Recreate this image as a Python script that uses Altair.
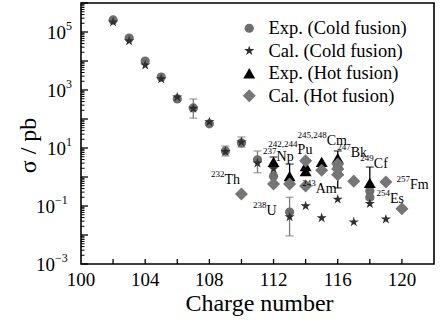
import altair as alt
import pandas as pd

FONT = "Liberation Serif"

# ---- data ----
series_order = ["Exp. (Cold fusion)", "Cal. (Cold fusion)", "Exp. (Hot fusion)", "Cal. (Hot fusion)"]

exp_cold_z = [102, 103, 104, 105, 106, 107, 108, 109, 110, 111, 112, 113, 118, 118]
exp_cold_s = [2.6e5, 6.2e4, 1.0e4, 2.8e3, 490, 240, 68, 7.9, 15, 3.9, 1.07, 0.062, 0.33, 0.2]

cal_cold_z = [102, 103, 104, 105, 106, 107, 108, 109, 110, 111, 112, 113, 114, 115, 116, 117, 118, 119]
cal_cold_s = [2.2e5, 4.9e4, 7.2e3, 2.4e3, 570, 230, 79, 7.5, 16, 3.0, 1.9, 0.042, 0.10, 0.039, 0.17, 0.028, 0.12, 0.035]

exp_hot_z = [112, 113, 114, 114, 115, 116, 116, 116, 118]
exp_hot_s = [3.3, 1.07, 2.4, 1.6, 3.3, 4.5, 2.8, 1.7, 0.63]

cal_hot_z = [110, 112, 113, 114, 114, 115, 116, 116, 116, 117, 119, 120]
cal_hot_s = [0.26, 0.57, 0.57, 3.6, 0.49, 1.7, 2.8, 1.9, 1.2, 0.72, 0.67, 0.08]

# error bars (cold-fusion experiments, grey; hot-fusion experiments, black)
err_cold_z = [107, 109, 110, 111, 113]
err_cold_lo = [107, 5.3, 10.8, 1.4, 0.0093]
err_cold_hi = [490, 11.7, 24, 7.9, 0.2]
err_hot_z = [112, 113, 116, 118]
err_hot_lo = [2.2, 0.7, 0.42, 0.17]
err_hot_hi = [4.9, 2.8, 7.9, 2.2]

# target annotations
lab_sup = ["232", "238", "237", "242,244", "245,248", "247", "243", "249", "257", "254"]
lab_sym = ["Th", "U", "Np", "Pu", "Cm", "Bk", "Am", "Cf", "Fm", "Es"]
lab_z = [108.94, 111.56, 112.19, 113.5, 115.31, 116.81, 114.63, 118.25, 120.5, 119.25]
lab_s = [0.575, 0.05, 3.55, 6.2, 12.6, 4.9, 0.28, 2.0, 0.4, 0.13]

# axis ticks / labels / titles
x_label_values = [100, 104, 108, 112, 116, 120]
x_label_text = ["100", "104", "108", "112", "116", "120"]
x_tick_values = [102, 104, 106, 108, 110, 112, 114, 116, 118, 120]
y_major = [10.0 ** e for e in range(-3, 7)]
y_minor = [k * 10.0 ** e for e in range(-3, 6) for k in range(2, 10)]
y_label_pos_vals = [1e5, 1e3, 1e1]
y_label_pos_exp = ["5", "3", "1"]
y_label_neg_vals = [1e-1, 1e-3]
y_label_neg_exp = ["\u22121", "\u22123"]
x_title = "Charge number"
y_title = "\u03c3 / pb"

# ---- tables ----
pts = pd.DataFrame({
    "z": exp_cold_z + cal_cold_z + exp_hot_z + cal_hot_z,
    "s": exp_cold_s + cal_cold_s + exp_hot_s + cal_hot_s,
    "series": ([series_order[0]] * len(exp_cold_z) + [series_order[1]] * len(cal_cold_z)
               + [series_order[2]] * len(exp_hot_z) + [series_order[3]] * len(cal_hot_z)),
})
errs_cold = pd.DataFrame({"z": err_cold_z, "lo": err_cold_lo, "hi": err_cold_hi})
errs_hot = pd.DataFrame({"z": err_hot_z, "lo": err_hot_lo, "hi": err_hot_hi})
labs = pd.DataFrame({"z": lab_z, "s": lab_s, "sup": lab_sup, "sym": lab_sym})

W, H = 353, 261
xscale = alt.Scale(domain=[100, 122], nice=False, zero=False)
yscale = alt.Scale(type="log", domain=[1e-3, 1e6], nice=False)

X = lambda f: alt.X(f, type="quantitative", scale=xscale, axis=None)
Y = lambda f: alt.Y(f, type="quantitative", scale=yscale, axis=None)

star = ("M0,-1L0.225,-0.309L0.951,-0.309L0.363,0.118L0.588,0.809L0,0.382"
        "L-0.588,0.809L-0.363,0.118L-0.951,-0.309L-0.225,-0.309Z")
shape_range = ["circle", star, "triangle-up", "diamond"]
color_range = ["#6e6e6e", "#2e2e2e", "#000000", "#767676"]
size_range = [85, 170, 110, 120]

legend = alt.Legend(orient="none", legendX=159, legendY=16, title=None,
                    labelFont=FONT, labelFontSize=18.5, labelColor="black",
                    symbolSize=60, symbolStrokeWidth=0, symbolOpacity=1,
                    rowPadding=3.5, labelOffset=10, padding=0)

# tick marks (inward)
ymaj = alt.Chart(pd.DataFrame({"s": y_major})).mark_rule(color="black", strokeWidth=1.3).encode(
    y=Y("s"), x=alt.value(0), x2=alt.value(7))
ymin = alt.Chart(pd.DataFrame({"s": y_minor})).mark_rule(color="black", strokeWidth=1).encode(
    y=Y("s"), x=alt.value(0), x2=alt.value(3.5))
xt = alt.Chart(pd.DataFrame({"z": x_tick_values})).mark_rule(color="black", strokeWidth=1.3).encode(
    x=X("z"), y=alt.value(H), y2=alt.value(H - 5))


def errorbars(df, color):
    bar = alt.Chart(df).mark_rule(strokeWidth=1.3, color=color).encode(x=X("z"), y=Y("lo"), y2="hi")
    lo = alt.Chart(df).mark_tick(orient="horizontal", size=8, thickness=1.3, color=color).encode(
        x=X("z"), y=Y("lo"))
    hi = alt.Chart(df).mark_tick(orient="horizontal", size=8, thickness=1.3, color=color).encode(
        x=X("z"), y=Y("hi"))
    return bar + lo + hi


points = alt.Chart(pts).mark_point(filled=True, opacity=1, strokeWidth=0).encode(
    x=X("z"), y=Y("s"),
    shape=alt.Shape("series:N", scale=alt.Scale(domain=series_order, range=shape_range), legend=legend),
    color=alt.Color("series:N", scale=alt.Scale(domain=series_order, range=color_range), legend=legend),
    size=alt.Size("series:N", scale=alt.Scale(domain=series_order, range=size_range), legend=None),
)

sup_t = alt.Chart(labs).mark_text(font=FONT, fontSize=9, align="right", baseline="alphabetic",
                                  dy=-7, color="black").encode(x=X("z"), y=Y("s"), text="sup:N")
sym_t = alt.Chart(labs).mark_text(font=FONT, fontSize=14, align="left", baseline="alphabetic",
                                  color="black").encode(x=X("z"), y=Y("s"), text="sym:N")

ylp = pd.DataFrame({"s": y_label_pos_vals, "e": y_label_pos_exp, "t": ["10"] * 3})
yln = pd.DataFrame({"s": y_label_neg_vals, "e": y_label_neg_exp, "t": ["10"] * 2})


def ylabels(df, xr):
    ten = alt.Chart(df).mark_text(font=FONT, fontSize=19, align="right", baseline="middle",
                                  dy=1, color="black").encode(x=alt.value(xr), y=Y("s"), text="t:N")
    ex = alt.Chart(df).mark_text(font=FONT, fontSize=12, align="left", baseline="middle",
                                 dy=-6, color="black").encode(x=alt.value(xr), y=Y("s"), text="e:N")
    return ten + ex


xlab = alt.Chart(pd.DataFrame({"z": x_label_values, "t": x_label_text})).mark_text(
    font=FONT, fontSize=19, align="center", baseline="alphabetic", color="black").encode(
    x=X("z"), y=alt.value(H + 22), text="t:N")
xtit = alt.Chart(pd.DataFrame({"t": [x_title]})).mark_text(
    font=FONT, fontSize=24, align="center", baseline="alphabetic", color="black").encode(
    x=alt.value(W / 2 + 2), y=alt.value(H + 47), text="t:N")
ytit = alt.Chart(pd.DataFrame({"t": [y_title]})).mark_text(
    font=FONT, fontSize=24, align="center", baseline="alphabetic", angle=270, color="black").encode(
    x=alt.value(-45), y=alt.value(H / 2 + 12), text="t:N")

chart = alt.layer(
    ymin, ymaj, xt, errorbars(errs_cold, "#7a7a7a"), errorbars(errs_hot, "#000000"),
    points, sup_t, sym_t,
    ylabels(ylp, -15), ylabels(yln, -26), xlab, xtit, ytit,
).properties(
    width=W, height=H, autosize="none",
    padding={"left": 81, "top": 3, "right": 7, "bottom": 60},
    background="white",
).configure(
    font=FONT,
).configure_legend(
    labelFont=FONT,
).configure_view(stroke="black", strokeWidth=1.6)

chart.save("out.html", embed_options={"renderer": "svg", "actions": False})
